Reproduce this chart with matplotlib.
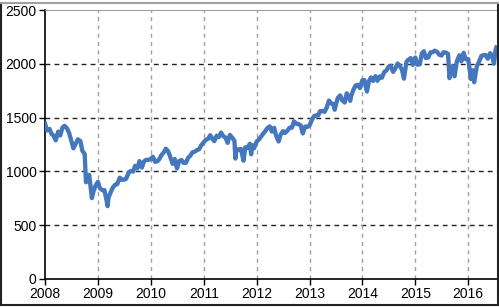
import matplotlib
matplotlib.use('Agg')
import matplotlib.pyplot as plt
from matplotlib.lines import Line2D
import numpy as np
import pandas as pd

plt.rcParams['font.family'] = ['Liberation Sans', 'DejaVu Sans']

# index level (dates roughly every half month, plus the sharp lows/highs)
dates = [
    '2008-01-01', '2008-01-15', '2008-02-01', '2008-02-15', '2008-03-01', '2008-03-15',
    '2008-04-01', '2008-04-15', '2008-05-01', '2008-05-15', '2008-06-01', '2008-06-15',
    '2008-07-01', '2008-07-15', '2008-08-01', '2008-08-15', '2008-09-01', '2008-09-15',
    '2008-10-01', '2008-10-10', '2008-10-15', '2008-11-01', '2008-11-20', '2008-12-01',
    '2008-12-15', '2009-01-01', '2009-01-15', '2009-02-01', '2009-02-15', '2009-03-01',
    '2009-03-09', '2009-03-15', '2009-04-01', '2009-04-15', '2009-05-01', '2009-05-15',
    '2009-06-01', '2009-06-15', '2009-07-01', '2009-07-15', '2009-08-01', '2009-08-15',
    '2009-09-01', '2009-09-15', '2009-10-01', '2009-10-15', '2009-11-01', '2009-11-15',
    '2009-12-01', '2009-12-15', '2010-01-01', '2010-01-15', '2010-02-01', '2010-02-15',
    '2010-03-01', '2010-03-15', '2010-04-01', '2010-04-15', '2010-05-01', '2010-05-15',
    '2010-06-01', '2010-06-15', '2010-07-01', '2010-07-15', '2010-08-01', '2010-08-15',
    '2010-09-01', '2010-09-15', '2010-10-01', '2010-10-15', '2010-11-01', '2010-11-15',
    '2010-12-01', '2010-12-15', '2011-01-01', '2011-01-15', '2011-02-01', '2011-02-15',
    '2011-03-01', '2011-03-15', '2011-04-01', '2011-04-15', '2011-05-01', '2011-05-15',
    '2011-06-01', '2011-06-15', '2011-07-01', '2011-07-15', '2011-08-01', '2011-08-08',
    '2011-08-15', '2011-09-01', '2011-09-15', '2011-10-03', '2011-10-15', '2011-11-01',
    '2011-11-15', '2011-11-25', '2011-12-01', '2011-12-15', '2012-01-01', '2012-01-15',
    '2012-02-01', '2012-02-15', '2012-03-01', '2012-03-15', '2012-04-01', '2012-04-15',
    '2012-05-01', '2012-05-15', '2012-06-01', '2012-06-15', '2012-07-01', '2012-07-15',
    '2012-08-01', '2012-08-15', '2012-09-01', '2012-09-15', '2012-10-01', '2012-10-15',
    '2012-11-01', '2012-11-15', '2012-12-01', '2012-12-15', '2013-01-01', '2013-01-15',
    '2013-02-01', '2013-02-15', '2013-03-01', '2013-03-15', '2013-04-01', '2013-04-15',
    '2013-05-01', '2013-05-15', '2013-06-01', '2013-06-15', '2013-06-24', '2013-07-01',
    '2013-07-15', '2013-08-01', '2013-08-15', '2013-09-01', '2013-09-15', '2013-10-01',
    '2013-10-09', '2013-10-15', '2013-11-01', '2013-11-15', '2013-12-01', '2013-12-15',
    '2014-01-01', '2014-01-15', '2014-02-01', '2014-02-15', '2014-03-01', '2014-03-15',
    '2014-04-01', '2014-04-15', '2014-05-01', '2014-05-15', '2014-06-01', '2014-06-15',
    '2014-07-01', '2014-07-15', '2014-08-01', '2014-08-15', '2014-09-01', '2014-09-15',
    '2014-10-01', '2014-10-15', '2014-11-01', '2014-11-15', '2014-12-01', '2014-12-15',
    '2015-01-01', '2015-01-15', '2015-02-01', '2015-02-15', '2015-03-01', '2015-03-15',
    '2015-04-01', '2015-04-15', '2015-05-01', '2015-05-15', '2015-06-01', '2015-06-15',
    '2015-07-01', '2015-07-15', '2015-08-01', '2015-08-15', '2015-08-25', '2015-09-01',
    '2015-09-15', '2015-09-29', '2015-10-15', '2015-11-01', '2015-11-15', '2015-12-01',
    '2015-12-15', '2016-01-01', '2016-01-20', '2016-02-01', '2016-02-11', '2016-03-01',
    '2016-03-15', '2016-04-01', '2016-04-15', '2016-05-01', '2016-05-15', '2016-06-01',
    '2016-06-15', '2016-06-27', '2016-07-08', '2016-07-13',
]
values = [
    1447, 1380, 1395, 1349, 1331, 1288,
    1370, 1334, 1409, 1423, 1400, 1360,
    1284, 1215, 1260, 1298, 1282, 1192,
    1161, 899, 907, 968, 752, 816,
    868, 903, 843, 825, 826, 735,
    677, 756, 811, 852, 877, 882,
    942, 923, 923, 932, 987, 1004,
    998, 1052, 1029, 1096, 1036, 1093,
    1108, 1107, 1115, 1136, 1089, 1094,
    1115, 1150, 1178, 1211, 1187, 1136,
    1070, 1115, 1027, 1095, 1106, 1079,
    1080, 1125, 1146, 1176, 1184, 1197,
    1206, 1242, 1271, 1293, 1304, 1336,
    1306, 1281, 1332, 1319, 1361, 1329,
    1314, 1265, 1339, 1316, 1287, 1119,
    1204, 1204, 1209, 1099, 1224, 1218,
    1257, 1159, 1244, 1215, 1277, 1293,
    1324, 1350, 1374, 1403, 1419, 1370,
    1405, 1330, 1278, 1342, 1374, 1357,
    1379, 1405, 1406, 1465, 1444, 1440,
    1427, 1353, 1416, 1413, 1426, 1472,
    1513, 1520, 1518, 1560, 1562, 1553,
    1597, 1658, 1631, 1626, 1573, 1614,
    1682, 1706, 1661, 1640, 1725, 1695,
    1656, 1698, 1761, 1798, 1805, 1775,
    1848, 1848, 1742, 1838, 1873, 1841,
    1885, 1842, 1883, 1870, 1924, 1937,
    1973, 1981, 1925, 1955, 2003, 1984,
    1946, 1862, 2018, 2039, 2053, 1990,
    2058, 1992, 1995, 2096, 2117, 2053,
    2059, 2106, 2108, 2122, 2111, 2084,
    2077, 2108, 2104, 2092, 1867, 1914,
    1978, 1884, 2023, 2079, 2023, 2102,
    2043, 2044, 1859, 1940, 1829, 1978,
    2016, 2073, 2080, 2081, 2047, 2099,
    2071, 2001, 2130, 2152,
]
year_ticks = list(range(2008, 2017))
y_ticks = [0, 500, 1000, 1500, 2000, 2500]

d = pd.to_datetime(dates)
x = d.year + (d.dayofyear - 1) / 365.25

fig = plt.figure(figsize=(4.99, 3.07), dpi=100)
ax = fig.add_axes([45 / 499, 1 - 279 / 307, 452 / 499, 269 / 307])

ax.plot(x, values, color='#4477BD', lw=3.1, solid_joinstyle='round', zorder=3)

ax.set_xlim(2008, 2008 + 452 / 52.9)
ax.set_ylim(0, 2500)
ax.set_xticks(year_ticks)
ax.set_yticks(y_ticks)
ax.tick_params(labelsize=10, length=4, width=1, pad=2, colors='black')

for v in y_ticks[1:-1]:
    ax.axhline(v, color='#222222', lw=1, ls=(0, (3.5, 3)), zorder=1)
for yr in year_ticks[1:]:
    ax.axvline(yr, color='#A0A0A0', lw=1, ls=(0, (3, 3)), zorder=1)

ax.spines['right'].set_visible(False)
ax.spines['top'].set_color('#A0A0A0')
ax.spines['left'].set_linewidth(1.2)
ax.spines['bottom'].set_linewidth(1.2)

# outer frame of the picture
fig.add_artist(Line2D([0.002, 0.002], [0.005, 0.99], transform=fig.transFigure, color='#222222', lw=1.5))
fig.add_artist(Line2D([0.002, 0.997], [0.005, 0.005], transform=fig.transFigure, color='#222222', lw=1.5))
fig.add_artist(Line2D([0.997, 0.997], [0.005, 0.99], transform=fig.transFigure, color='#222222', lw=1.5))
fig.add_artist(Line2D([0.002, 0.997], [0.99, 0.99], transform=fig.transFigure, color='#A0A0A0', lw=1.5))

fig.savefig('out.png', dpi=100)
